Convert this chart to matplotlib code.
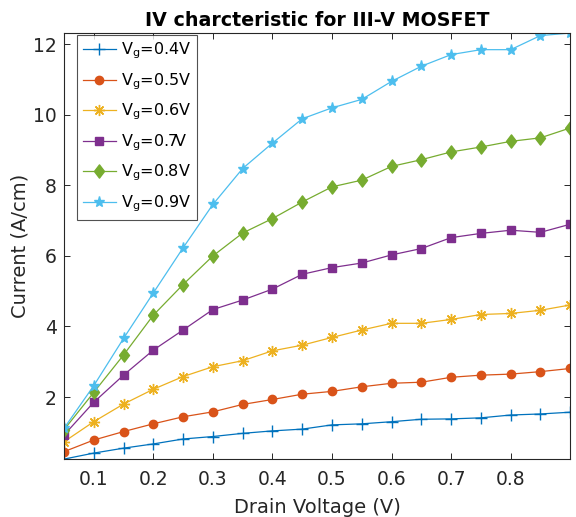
import matplotlib
matplotlib.use("Agg")
import matplotlib.pyplot as plt
import numpy as np

vd = [0.05, 0.10, 0.15, 0.20, 0.25, 0.30, 0.35, 0.40, 0.45, 0.50,
      0.55, 0.60, 0.65, 0.70, 0.75, 0.80, 0.85, 0.90]

i_04 = [0.24, 0.41, 0.55, 0.67, 0.81, 0.88, 0.97, 1.04, 1.09, 1.21,
        1.24, 1.30, 1.37, 1.38, 1.41, 1.49, 1.52, 1.57]
i_05 = [0.45, 0.78, 1.02, 1.24, 1.44, 1.58, 1.79, 1.93, 2.08, 2.16,
        2.29, 2.39, 2.42, 2.56, 2.62, 2.65, 2.72, 2.81]
i_06 = [0.73, 1.30, 1.80, 2.22, 2.58, 2.86, 3.03, 3.31, 3.47, 3.69,
        3.90, 4.09, 4.09, 4.20, 4.34, 4.37, 4.46, 4.61]
i_07 = [0.92, 1.85, 2.62, 3.33, 3.90, 4.48, 4.75, 5.06, 5.48, 5.67,
        5.80, 6.03, 6.21, 6.52, 6.64, 6.73, 6.67, 6.90]
i_08 = [1.07, 2.13, 3.19, 4.32, 5.19, 6.00, 6.65, 7.06, 7.53, 7.96,
        8.15, 8.54, 8.73, 8.95, 9.09, 9.25, 9.35, 9.63]
i_09 = [1.11, 2.32, 3.66, 4.95, 6.23, 7.46, 8.48, 9.20, 9.89, 10.20,
        10.44, 10.95, 11.38, 11.71, 11.85, 11.85, 12.25, 12.32]

labels = ["V$_\\mathregular{g}$=0.4V", "V$_\\mathregular{g}$=0.5V",
          "V$_\\mathregular{g}$=0.6V", "V$_\\mathregular{g}$=0.7V",
          "V$_\\mathregular{g}$=0.8V", "V$_\\mathregular{g}$=0.9V"]
series = [i_04, i_05, i_06, i_07, i_08, i_09]
colors = ["#0072BD", "#D95319", "#EDB120", "#7E2F8E", "#77AC30", "#4DBEEE"]
diamond = [(-0.38, 0.0), (0.0, 0.5), (0.38, 0.0), (0.0, -0.5), (-0.38, 0.0)]
markers = ["+", "o", (8, 2, 0), "s", diamond, "*"]
msizes = [9, 6, 8, 6, 9.5, 8]

xticks = [0.1, 0.2, 0.3, 0.4, 0.5, 0.6, 0.7, 0.8]
yticks = [2, 4, 6, 8, 10, 12]

fig = plt.figure(figsize=(5.76, 5.17), dpi=100)
ax = fig.add_axes([0.111, 0.112, 0.879, 0.824])

for y, c, m, ms, lab in zip(series, colors, markers, msizes, labels):
    ax.plot(vd, y, color=c, marker=m, markersize=ms, linewidth=0.9,
            markerfacecolor=c, markeredgecolor=c, markeredgewidth=1.0,
            label=lab)

allv = np.concatenate([np.array(s) for s in series])
ax.set_xlim(min(vd), max(vd))
ax.set_ylim(allv.min(), allv.max())
ax.set_xticks(xticks)
ax.set_xticklabels([f"{t:.1f}" for t in xticks])
ax.set_yticks(yticks)

axc = "#262626"
for sp in ax.spines.values():
    sp.set_color(axc)
    sp.set_linewidth(0.8)
ax.tick_params(direction="in", top=True, right=True, length=4,
               colors=axc, labelsize=13.5, width=0.7)
ax.tick_params(axis="x", pad=8)
ax.tick_params(axis="y", pad=5)
ax.set_xlabel("Drain Voltage (V)", fontsize=14, color=axc, labelpad=6)
ax.set_ylabel("Current (A/cm)", fontsize=14, color=axc, labelpad=3)
ax.set_title("IV charcteristic for III-V MOSFET", fontsize=13.7,
             fontweight="bold", color="black", pad=5)

leg = ax.legend(loc="upper left", bbox_to_anchor=(0.026, 0.995),
                borderaxespad=0.0, fontsize=11.5, frameon=True,
                fancybox=False, edgecolor="#262626", borderpad=0.35,
                labelspacing=0.62, handlelength=2.1, handletextpad=0.3)
leg.get_frame().set_linewidth(0.8)

fig.savefig("out.png", dpi=100)
